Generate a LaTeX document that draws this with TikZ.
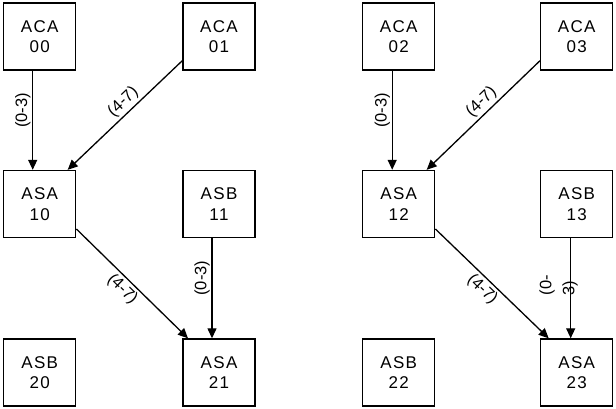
\documentclass[tikz,border=0pt]{standalone}
\usepackage{fontspec}
\setmainfont{Liberation Sans}
\newfontfamily\boxfont[LetterSpace=8]{Liberation Sans}
\usetikzlibrary{arrows.meta,calc}
\begin{document}
\begin{tikzpicture}[x=1pt,y=-1pt,
  box/.style={draw,line width=1.4pt,minimum width=72pt,minimum height=67pt,inner sep=0pt,align=center,
    font=\boxfont\fontsize{17}{20.5}\selectfont},
  conn/.style={line width=1.3pt,-{Triangle[length=10pt,width=9pt]}},
  vlbl/.style={rotate=90,anchor=south,inner sep=1.5pt,font=\fontsize{16.5}{19}\selectfont},
  slbl/.style={sloped,inner sep=2.5pt,font=\fontsize{16.5}{19}\selectfont}]
\useasboundingbox (0,0) rectangle (616,409);
\node[box] (n00) at (39.7,36.7) {ACA\\00};
\node[box] (n01) at (219,36.7) {ACA\\01};
\node[box] (n02) at (398.7,36.7) {ACA\\02};
\node[box] (n03) at (576.7,36.7) {ACA\\03};
\node[box] (n10) at (39.7,204) {ASA\\10};
\node[box] (n11) at (219,204) {ASB\\11};
\node[box] (n12) at (398.7,204) {ASA\\12};
\node[box] (n13) at (576.7,204) {ASB\\13};
\node[box] (n20) at (39.7,372.5) {ASB\\20};
\node[box] (n21) at (219,372.5) {ASA\\21};
\node[box] (n22) at (398.7,372.5) {ASB\\22};
\node[box] (n23) at (576.7,372.5) {ASA\\23};
% left group
\draw[conn] ([xshift=-7pt]n00.south) -- node[vlbl,pos=0.4] {(0-3)} ([xshift=-7pt]n10.north);
\draw[conn] ([yshift=-24pt]n01.west) -- node[slbl,above,pos=0.45] {(4-7)} ([xshift=28pt]n10.north);
\draw[conn] ([yshift=-25pt]n10.east) -- node[slbl,below,pos=0.48] {(4-7)} ([xshift=-31pt]n21.north);
\draw[conn] ([xshift=-7pt]n11.south) -- node[vlbl,pos=0.4] {(0-3)} ([xshift=-7pt]n21.north);
% right group
\draw[conn] ([xshift=-6.5pt]n02.south) -- node[vlbl,pos=0.4] {(0-3)} ([xshift=-6.5pt]n12.north);
\draw[conn] ([yshift=-24pt]n03.west) -- node[slbl,above,pos=0.45] {(4-7)} ([xshift=28pt]n12.north);
\draw[conn] ([yshift=-25pt]n12.east) -- node[slbl,below,pos=0.48] {(4-7)} ([xshift=-28pt]n23.north);
\draw[conn] ([xshift=-6pt]n13.south) -- ([xshift=-6pt]n23.north);
\node[rotate=90,align=left,inner sep=0pt,font=\fontsize{16.5}{23}\selectfont] (l13)
  at ($(n13.south)!0.47!(n23.north)+(-18,0)$) {(0-\\3)};
\end{tikzpicture}
\end{document}
